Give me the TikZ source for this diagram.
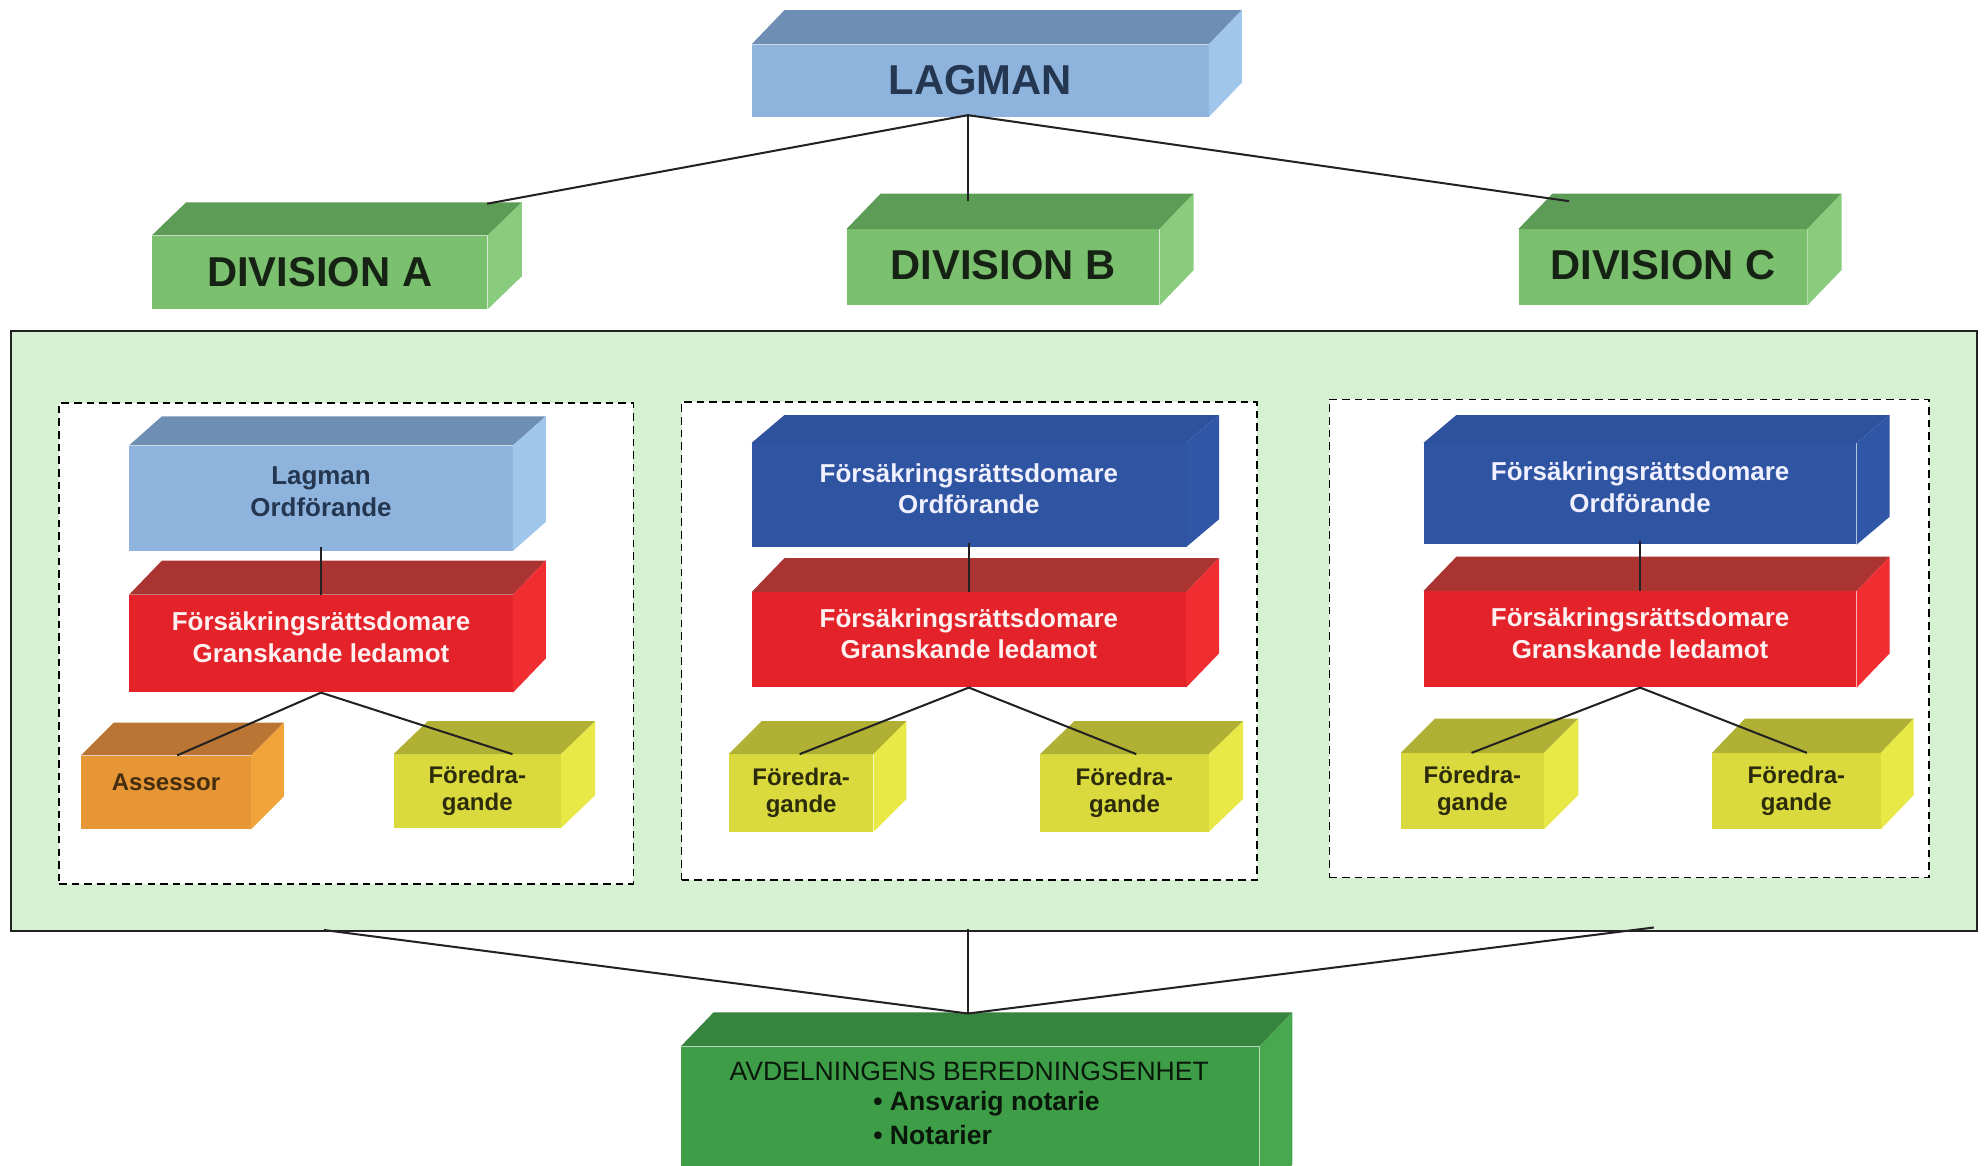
\documentclass[tikz,border=0pt]{standalone}
\usepackage{fontspec}
\setmainfont{Liberation Sans}
\usetikzlibrary{calc}
\definecolor{lbF}{RGB}{142,180,222}
\definecolor{lbT}{RGB}{110,142,180}
\definecolor{lbS}{RGB}{160,198,236}
\definecolor{dgF}{RGB}{122,192,110}
\definecolor{dgT}{RGB}{92,156,86}
\definecolor{dgS}{RGB}{138,204,126}
\definecolor{dbF}{RGB}{46,84,162}
\definecolor{dbT}{RGB}{46,82,158}
\definecolor{dbS}{RGB}{48,86,166}
\definecolor{rdF}{RGB}{228,34,42}
\definecolor{rdT}{RGB}{170,52,50}
\definecolor{rdS}{RGB}{240,46,50}
\definecolor{orF}{RGB}{230,150,52}
\definecolor{orT}{RGB}{186,116,52}
\definecolor{orS}{RGB}{240,164,58}
\definecolor{ylF}{RGB}{218,218,62}
\definecolor{ylT}{RGB}{176,176,52}
\definecolor{ylS}{RGB}{232,232,70}
\definecolor{bgF}{RGB}{62,158,72}
\definecolor{bgT}{RGB}{54,132,62}
\definecolor{bgS}{RGB}{72,168,80}
\definecolor{panelF}{RGB}{214,240,210}
\definecolor{lineC}{RGB}{34,34,34}
\definecolor{slateTxt}{RGB}{36,54,80}
\newcommand\boxfaces[5]{%
  \fill[#4] (#1.north west) -- ++(#2,-#3) -- ($(#1.north east)+(#2,-#3)$) -- (#1.north east) -- cycle;
  \fill[#5] (#1.north east) -- ++(#2,-#3) -- ($(#1.south east)+(#2,-#3)$) -- (#1.south east) -- cycle;}
\begin{document}
\begin{tikzpicture}[x=1pt,y=-1pt,
  face/.style={anchor=north west,inner sep=0pt,align=center,font=\bfseries},
  conn/.style={draw=lineC,line width=1.6pt},
  dbox/.style={anchor=north west,draw=black,fill=white,dashed,dash pattern=on 6pt off 4pt,line width=1.2pt,inner sep=0pt},
  bigtxt/.style={font=\fontsize{33}{36}\selectfont\bfseries},
  midtxt/.style={font=\fontsize{20.5}{25}\selectfont\bfseries,text depth=10pt},
  smltxt/.style={font=\fontsize{19}{21}\selectfont\bfseries}]
\clip (0,0) rectangle (1568,921);
\fill[white] (0,0) rectangle (1568,921);

% top level
\node[face,bigtxt,fill=lbF,text=slateTxt,minimum width=361pt,minimum height=57pt] (lag) at (594,35) {LAGMAN};
\boxfaces{lag}{26}{27}{lbT}{lbS}
\node[face,bigtxt,fill=dgF,text=dgF!18!black,minimum width=265pt,minimum height=58pt] (divA) at (120,186) {DIVISION A};
\boxfaces{divA}{27}{26}{dgT}{dgS}
\node[face,bigtxt,fill=dgF,text=dgF!18!black,minimum width=247pt,minimum height=60pt,text depth=3pt] (divB) at (669,181) {DIVISION B};
\boxfaces{divB}{27}{28}{dgT}{dgS}
\node[face,bigtxt,fill=dgF,text=dgF!18!black,minimum width=228pt,minimum height=60pt,text depth=3pt] (divC) at (1200,181) {DIVISION C};
\boxfaces{divC}{27}{28}{dgT}{dgS}

\coordinate (lagc) at (765,91);
\coordinate (divAt) at (385,161);
\coordinate (divBt) at (765,159);
\coordinate (divCt) at (1240,159);
\draw[conn] (lagc) -- (divAt);
\draw[conn,line width=1.2pt] (lagc) -- (divBt);
\draw[conn] (lagc) -- (divCt);

% panel
\node[anchor=north west,draw=lineC,fill=panelF,line width=1.6pt,minimum width=1554pt,minimum height=474pt,inner sep=0pt] (panel) at (8,261) {};

\node[dbox,minimum width=454pt,minimum height=380pt] (grpA) at (46,318) {};
\node[dbox,minimum width=455pt,minimum height=378pt] (grpB) at (538,317) {};
\node[dbox,minimum width=474pt,minimum height=378pt] (grpC) at (1050,315) {};

% group A
\node[face,midtxt,fill=lbF,text=slateTxt,minimum width=303pt,minimum height=83pt] (ordA) at (102,352) {Lagman\\Ordförande};
\boxfaces{ordA}{26}{23}{lbT}{lbS}
\node[face,midtxt,fill=rdF,text=white!94!red,minimum width=303pt,minimum height=77pt] (graA) at (102,470) {Försäkringsrättsdomare\\Granskande ledamot};
\boxfaces{graA}{26}{27}{rdT}{rdS}
\node[face,smltxt,fill=orF,text=orF!30!black,minimum width=134pt,minimum height=58pt,text depth=16pt] (assA) at (64,597) {Assessor};
\boxfaces{assA}{26}{26}{orT}{orS}
\node[face,smltxt,fill=ylF,text=ylF!20!black,minimum width=132pt,minimum height=58pt] (forA) at (311,596) {Föredra-\\gande};
\boxfaces{forA}{27}{26}{ylT}{ylS}

% group B
\node[face,midtxt,fill=dbF,text=white!94!blue,minimum width=343pt,minimum height=82pt] (ordB) at (594,350) {Försäkringsrättsdomare\\Ordförande};
\boxfaces{ordB}{26}{22}{dbT}{dbS}
\node[face,midtxt,fill=rdF,text=white!94!red,minimum width=343pt,minimum height=75pt] (graB) at (594,468) {Försäkringsrättsdomare\\Granskande ledamot};
\boxfaces{graB}{26}{27}{rdT}{rdS}
\node[face,smltxt,fill=ylF,text=ylF!20!black,minimum width=114pt,minimum height=61pt] (forB1) at (576,596) {Föredra-\\gande};
\boxfaces{forB1}{26}{26}{ylT}{ylS}
\node[face,smltxt,fill=ylF,text=ylF!20!black,minimum width=133pt,minimum height=61pt] (forB2) at (822,596) {Föredra-\\gande};
\boxfaces{forB2}{27}{26}{ylT}{ylS}

% group C
\node[face,midtxt,fill=dbF,text=white!94!blue,minimum width=342pt,minimum height=80pt] (ordC) at (1125,350) {Försäkringsrättsdomare\\Ordförande};
\boxfaces{ordC}{26}{22}{dbT}{dbS}
\node[face,midtxt,fill=rdF,text=white!94!red,minimum width=342pt,minimum height=76pt] (graC) at (1125,467) {Försäkringsrättsdomare\\Granskande ledamot};
\boxfaces{graC}{26}{27}{rdT}{rdS}
\node[face,smltxt,fill=ylF,text=ylF!20!black,minimum width=113pt,minimum height=60pt] (forC1) at (1107,595) {Föredra-\\gande};
\boxfaces{forC1}{27}{27}{ylT}{ylS}
\node[face,smltxt,fill=ylF,text=ylF!20!black,minimum width=133pt,minimum height=60pt] (forC2) at (1353,595) {Föredra-\\gande};
\boxfaces{forC2}{26}{27}{ylT}{ylS}

% inner connectors
\coordinate (aA1) at (140,597);
\coordinate (aA2) at (405,596);
\draw[conn,line width=1.2pt] (ordA.south) ++(0,-3) -- (graA.north);
\draw[conn] (graA.south) -- (aA1);
\draw[conn] (graA.south) -- (aA2);
\coordinate (bB1) at (632,596);
\coordinate (bB2) at (898,596);
\draw[conn,line width=1.2pt] (ordB.south) ++(0,-3) -- (graB.north);
\draw[conn] (graB.south) -- (bB1);
\draw[conn] (graB.south) -- (bB2);
\coordinate (cC1) at (1163,595);
\coordinate (cC2) at (1428,595);
\draw[conn,line width=1.2pt] (ordC.south) ++(0,-3) -- (graC.north);
\draw[conn] (graC.south) -- (cC1);
\draw[conn] (graC.south) -- (cC2);

% bottom unit
\node[face,fill=bgF,minimum width=457pt,minimum height=120pt] (unit) at (538,827) {};
\boxfaces{unit}{26}{27}{bgT}{bgS}
\node[font=\fontsize{21}{24}\selectfont,text=bgF!15!black,inner sep=0pt] (unitT) at (766,847) {AVDELNINGENS BEREDNINGSENHET};
\node[anchor=west,font=\fontsize{21}{24}\selectfont\bfseries,text=bgF!15!black,inner sep=0pt] (unitL1) at (690,872) {• Ansvarig notarie};
\node[anchor=west,font=\fontsize{21}{24}\selectfont\bfseries,text=bgF!15!black,inner sep=0pt] (unitL2) at (690,897) {• Notarier};

\coordinate (pA) at (256,735);
\coordinate (pB) at (765,734);
\coordinate (pC) at (1307,733);
\coordinate (ut) at (765,801);
\draw[conn] (pA) -- (ut);
\draw[conn,line width=1.2pt] (pB) -- (ut);
\draw[conn] (pC) -- (ut);
\end{tikzpicture}
\end{document}
